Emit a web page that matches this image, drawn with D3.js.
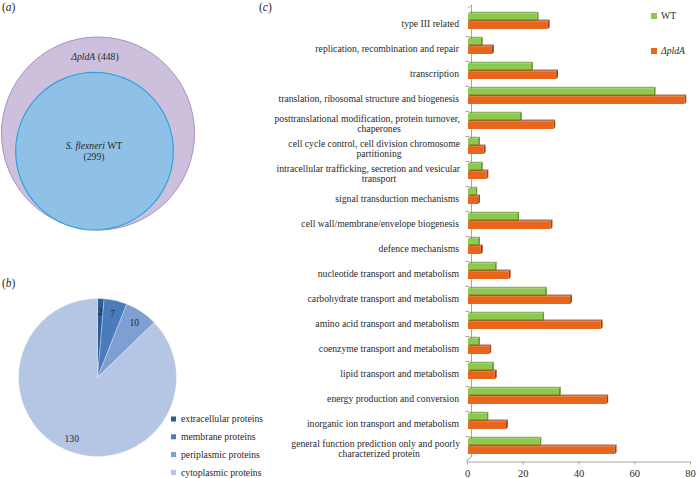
<!DOCTYPE html>
<html><head><meta charset="utf-8">
<script src="https://cdn.jsdelivr.net/npm/d3@7"></script>
<style>body{margin:0;background:#fff}svg{display:block}</style>
</head><body>
<svg id="c" width="700" height="478"></svg>
<script>
// ---- data ----
const vennLabels = ["ΔpldA", "S. flexneri WT"];
const vennCounts = [448, 299];

const pieLabels = ["extracellular proteins", "membrane proteins", "periplasmic proteins", "cytoplasmic proteins"];
const pieValues = [2, 7, 10, 130];
const pieColors = ["#2e5d93", "#4a7cbd", "#7e9fd2", "#b4c6e4"];

const categories = [
  "type III related",
  "replication, recombination and repair",
  "transcription",
  "translation, ribosomal structure and biogenesis",
  "posttranslational modification, protein turnover,\nchaperones",
  "cell cycle control, cell division chromosome\npartitioning",
  "intracellular trafficking, secretion and vesicular\ntransport",
  "signal transduction mechanisms",
  "cell wall/membrane/envelope biogenesis",
  "defence mechanisms",
  "nucleotide transport and metabolism",
  "carbohydrate transport and metabolism",
  "amino acid transport and metabolism",
  "coenzyme transport and metabolism",
  "lipid transport and metabolism",
  "energy production and conversion",
  "inorganic ion transport and metabolism",
  "general function prediction only and poorly\ncharacterized protein"
];
const seriesNames = ["WT", "ΔpldA"];
const wtValues    = [25, 5, 23, 67, 19, 4, 5, 3, 18, 4, 10, 28, 27, 4, 9, 33, 7, 26];
const pldAValues  = [29, 9, 32, 78, 31, 6, 7, 4, 30, 5, 15, 37, 48, 8, 10, 50, 14, 53];
const xTicks = [0, 20, 40, 60, 80];
const seriesColors = ["#8cc94c", "#e8661c"];
const seriesDark = ["#5f9a2e", "#9c4212"];

const FONT = '"Liberation Serif", serif';
const TXT = "#2a2a2a";
const svg = d3.select("#c");
function txt(sel, size) {
  return sel.style("font-family", FONT).style("font-size", size + "px").style("fill", TXT);
}

// ---- panel labels ----
function panelLabel(x, y, letter) {
  const t = txt(svg.append("text").attr("x", x).attr("y", y), 11.5);
  t.append("tspan").text("(");
  t.append("tspan").style("font-style", "italic").text(letter);
  t.append("tspan").text(")");
}
panelLabel(2, 11, "a");
panelLabel(2, 287, "b");
panelLabel(259, 11, "c");

// ---- (a) Venn ----
const rScale = d3.scaleSqrt().domain([0, 448]).range([0, 96.5]);
svg.append("circle").attr("cx", 98).attr("cy", 133.5).attr("r", rScale(vennCounts[0]))
  .attr("fill", "#cdc0dc").attr("stroke", "#a892bd").attr("stroke-width", 1);
svg.append("circle").attr("cx", 94.5).attr("cy", 230 - rScale(vennCounts[1])).attr("r", rScale(vennCounts[1]))
  .attr("fill", "#8fc1e7").attr("stroke", "#2ba4dd").attr("stroke-width", 1.2);
{
  const t = txt(svg.append("text").attr("x", 95).attr("y", 60).attr("text-anchor", "middle"), 9.7);
  t.append("tspan").style("font-style", "italic").text(vennLabels[0]);
  t.append("tspan").text(" (" + vennCounts[0] + ")");
  const t2 = txt(svg.append("text").attr("x", 94).attr("y", 149).attr("text-anchor", "middle"), 9.7);
  t2.append("tspan").style("font-style", "italic").text("S. flexneri");
  t2.append("tspan").text(" WT");
  txt(svg.append("text").attr("x", 94).attr("y", 159.5).attr("text-anchor", "middle"), 9.7)
    .text("(" + vennCounts[1] + ")");
}

// ---- (b) Pie ----
const pieG = svg.append("g").attr("transform", "translate(97.5,377.5)");
const pie = d3.pie().sort(null).value(d => d);
const arcs = pie(pieValues);
const arc = d3.arc().innerRadius(0).outerRadius(79);
const labelArc = d3.arc().innerRadius(66).outerRadius(66);
pieG.selectAll("path").data(arcs).join("path")
  .attr("d", arc).attr("fill", (d, i) => pieColors[i]).attr("stroke", "#ffffff").attr("stroke-width", 0.3);
txt(pieG.selectAll("text").data(arcs).join("text")
  .attr("transform", d => `translate(${labelArc.centroid(d)})`)
  .attr("text-anchor", "middle").attr("dy", "0.35em"), 9.7)
  .text(d => d.data);
const pleg = svg.append("g").attr("transform", "translate(171,419)");
pieLabels.forEach((l, i) => {
  const g = pleg.append("g").attr("transform", `translate(0,${i * 17.8})`);
  g.append("rect").attr("x", 0).attr("y", -2.5).attr("width", 5).attr("height", 5).attr("fill", pieColors[i]);
  txt(g.append("text").attr("x", 10).attr("y", 0).attr("dy", "0.35em"), 9.7).text(l);
});

// ---- (c) Bars ----
const x = d3.scaleLinear().domain([0, 80]).range([467, 690]);
const y = d3.scaleBand().domain(categories).range([11, 461]).padding(0);
const bw = y.bandwidth();
const ys = d3.scaleBand().domain(seriesNames).range([bw * 0.1, bw * 0.72]).padding(0);
const axisColor = "#a6a6a6";

const axG = svg.append("g");
axG.append("line").attr("x1", 471.5).attr("x2", 471.5).attr("y1", 5).attr("y2", 457).attr("stroke", axisColor);
axG.append("line").attr("x1", 468).attr("x2", 471.5).attr("y1", 8).attr("y2", 5).attr("stroke", axisColor);
axG.append("line").attr("x1", 466).attr("x2", 471.5).attr("y1", 461.5).attr("y2", 457).attr("stroke", axisColor);
const bounds = categories.map(c => y(c)).concat([461]);
axG.selectAll(".bt").data(bounds.slice(1, -1)).join("line")
  .attr("x1", 465.5).attr("x2", 469).attr("y1", d => d + 0.5).attr("y2", d => d + 0.5).attr("stroke", axisColor);

const xAxis = d3.axisBottom(x).tickValues(xTicks).tickSize(3).tickSizeOuter(0);
const xg = svg.append("g").attr("transform", "translate(0,461.5)").call(xAxis);
xg.select(".domain").attr("stroke", axisColor);
xg.selectAll(".tick line").attr("stroke", axisColor);
txt(xg.selectAll(".tick text"), 10.5).attr("dy", "0.9em");

const series = [wtValues, pldAValues];
const barsG = svg.append("g");
categories.forEach((c, i) => {
  series.forEach((vals, s) => {
    const v = vals[i];
    const y0 = y(c) + ys(seriesNames[s]);
    const h = ys.bandwidth();
    const x0 = x(0) + 1, x1 = x(v);
    const d = 1.8;
    barsG.append("path")
      .attr("d", `M${x0},${y0}L${x0 + d},${y0 - d}L${x1 + d},${y0 - d}L${x1},${y0}Z`)
      .attr("fill", seriesDark[s]).attr("opacity", 0.75);
    barsG.append("path")
      .attr("d", `M${x1},${y0}L${x1 + d},${y0 - d}L${x1 + d},${y0 + h - d}L${x1},${y0 + h}Z`)
      .attr("fill", seriesDark[s]);
    barsG.append("rect").attr("x", x0).attr("y", y0).attr("width", x1 - x0).attr("height", h)
      .attr("fill", seriesColors[s]);
  });
});

const labG = svg.append("g");
categories.forEach(c => {
  const lines = c.split("\n");
  const cy = y(c) + bw / 2;
  if (lines.length === 1) {
    txt(labG.append("text").attr("x", 459).attr("y", cy).attr("dy", "0.35em")
      .attr("text-anchor", "end"), 9.7).text(lines[0]);
  } else {
    txt(labG.append("text").attr("x", 460).attr("y", cy - 5.3).attr("dy", "0.35em")
      .attr("text-anchor", "end"), 9.7).text(lines[0]);
    txt(labG.append("text").attr("x", 379).attr("y", cy + 5.5).attr("dy", "0.35em")
      .attr("text-anchor", "middle"), 9.7).text(lines[1]);
  }
});

const lg = svg.append("g");
seriesNames.forEach((n, i) => {
  const yy = [16, 51][i];
  lg.append("rect").attr("x", 651).attr("y", yy - 3).attr("width", 6).attr("height", 6).attr("fill", seriesColors[i]);
  const t = txt(lg.append("text").attr("x", 661).attr("y", yy).attr("dy", "0.35em"), 9.7).text(n);
  if (i === 1) t.style("font-style", "italic");
});
</script>
</body></html>
